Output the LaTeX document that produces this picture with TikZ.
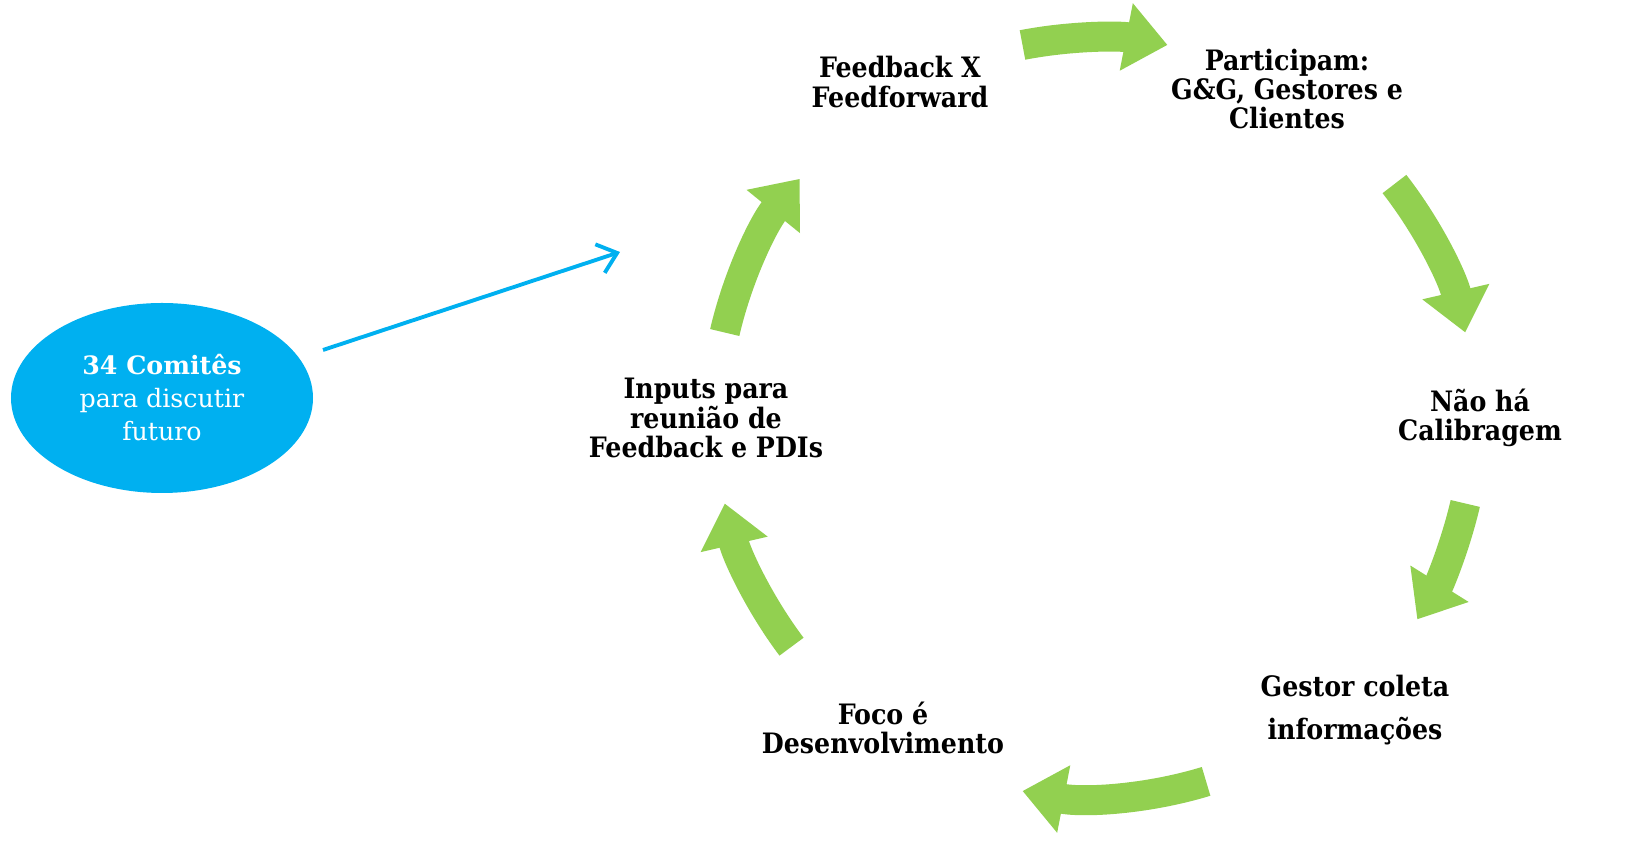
\documentclass[tikz,border=0pt]{standalone}
\usepackage{fontspec}
\setmainfont{DejaVu Serif}
\newfontfamily\labelfont{DejaVu Serif Condensed}
\usetikzlibrary{arrows.meta,shapes}
\definecolor{cyclegreen}{HTML}{92D050}
\definecolor{comiteblue}{HTML}{00B0F0}

\begin{document}
\begin{tikzpicture}[text node/.style={align=center, font=\labelfont\bfseries\fontsize{8}{8.3}\selectfont},
  cycle arrow/.style={cyclegreen, line width=0.3cm, -{Triangle[width=0.66cm,length=0.42cm]}},
  comite node/.style={ellipse, fill=comiteblue, minimum width=3.02cm, minimum height=1.9cm, inner sep=0pt, text=white, align=center, font=\fontsize{7.2}{9.4}\selectfont}]
\useasboundingbox (0,0) rectangle (16.47,8.63);
\coordinate (c) at (10.95,4.45);
\node[comite node] (comite) at (1.62,4.65) {\textbf{34 Comitês}\\para discutir\\futuro};
\node[text node] (feed) at (9.00,7.81) {Feedback X\\Feedforward};
\node[text node] (part) at (12.87,7.74) {Participam:\\G\&G, Gestores e\\Clientes};
\node[text node] (calib) at (14.80,4.45) {Não há\\Calibragem};
\node[text node, font=\labelfont\bfseries\fontsize{8}{12}\selectfont] (coleta) at (13.55,1.53) {Gestor coleta\\informações};
\node[text node] (foco) at (8.83,1.35) {Foco é\\Desenvolvimento};
\node[text node] (inputs) at (7.06,4.45) {Inputs para\\reunião de\\Feedback e PDIs};
\foreach \s/\e in {101/79, 38/13, -13/-32, -73/-101, -143/-167, 167/141}
  \draw[cycle arrow] (c) ++(\s:3.8) arc[start angle=\s, end angle=\e, radius=3.8];
\coordinate (tail) at (3.23,5.13);
\coordinate (tip) at (6.20,6.11);
\draw[comiteblue, line width=1.1pt, -{Straight Barb[length=0.18cm,width=0.3cm]}] (tail) -- (tip);
\end{tikzpicture}
\end{document}
